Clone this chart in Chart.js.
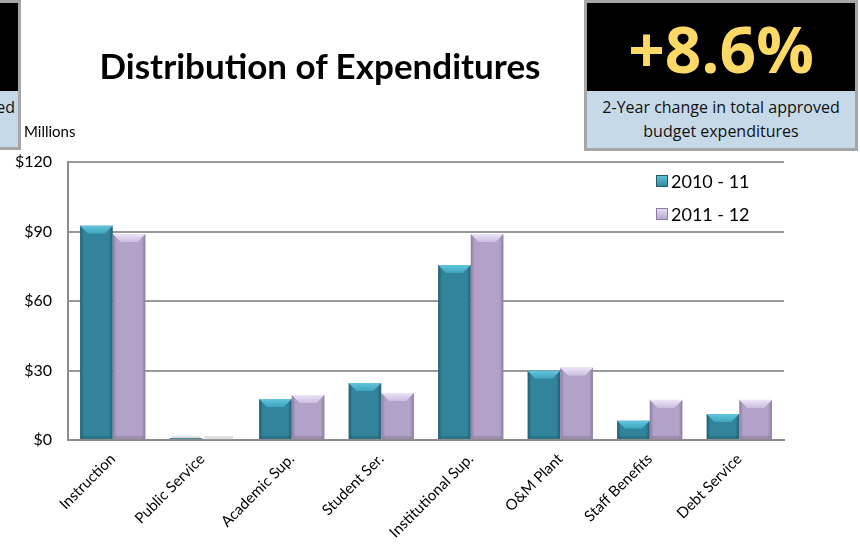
<!DOCTYPE html>
<html>
<head>
<meta charset="utf-8">
<script src="https://cdn.jsdelivr.net/npm/chart.js@4.4.0/dist/chart.umd.min.js"></script>
<style>
  body{margin:0;background:#fff;font-family:Lato,"Open Sans",sans-serif;}
  #wrap{position:relative;width:860px;height:555px;overflow:hidden;}
  #c{position:absolute;left:0;top:0;}
  .title{position:absolute;left:40px;width:560px;top:44px;text-align:center;font-weight:bold;font-size:35px;color:#000;}
  .box{position:absolute;border:3px solid #a6a6a6;background:#c5d9e8;box-sizing:border-box;overflow:hidden;}
  .box .top{background:#000;height:88px;color:#ffd966;font-weight:bold;text-align:center;font-family:"Open Sans",sans-serif;font-size:64px;line-height:92px;overflow:hidden;}
  .box .sub{text-align:center;font-family:"Open Sans",sans-serif;font-size:16px;line-height:24px;padding-top:4px;color:#111;white-space:nowrap;}
  .millions{position:absolute;left:24px;top:122px;font-size:15px;color:#000;}
</style>
</head>
<body>
<div id="wrap">
  <canvas id="c" width="860" height="555"></canvas>
  <div class="box" style="left:-252px;top:0;width:273px;height:150px">
    <div class="top">+5.2%</div>
    <div class="sub"><div style="text-align:right;padding-right:3px">1-Year change in total approved</div><div>budget expenditures</div></div>
  </div>
  <div class="title">Distribution of Expenditures</div>
  <div class="box" style="left:584px;top:0;width:274px;height:151px">
    <div class="top">+8.6%</div>
    <div class="sub">2-Year change in total approved<br>budget expenditures</div>
  </div>
  <div class="millions">Millions</div>
</div>
<script>
const categories = ['Instruction','Public Service','Academic Sup.','Student Ser.','Institutional Sup.','O&M Plant','Staff Benefits','Debt Service'];
const fy2010 = [92.5, 0.8, 17.7, 24.6, 75.5, 29.9, 8.3, 11.2];
const fy2011 = [88.9, 0.3, 19.4, 20.3, 88.9, 31.2, 17.3, 17.3];
const seriesNames = ['2010 - 11','2011 - 12'];
const yTicks = [0, 30, 60, 90, 120];

// colours per series: body, edge, light top
const pal = [
  {body:'#31849b', edge:'#1f5f70', top:'#62c6de', top2:'#3ea3bd'},
  {body:'#b3a2c7', edge:'#8c79a6', top:'#ece4f6', top2:'#cbbde0'}
];

function barGrad(ctx, x0, x1, p){
  const g = ctx.createLinearGradient(x0,0,x1,0);
  g.addColorStop(0, p.edge); g.addColorStop(0.12, p.body);
  g.addColorStop(0.88, p.body); g.addColorStop(1, p.edge);
  return g;
}

// draws the bevelled bars on top of chart.js' own bar elements
const bevel = {
  id:'bevel',
  afterDatasetsDraw(chart){
    const ctx = chart.ctx;
    chart.data.datasets.forEach((ds, i)=>{
      const p = pal[i];
      chart.getDatasetMeta(i).data.forEach(bar=>{
        const w = bar.width, x0 = bar.x - w/2, x1 = bar.x + w/2;
        const top = bar.y, base = bar.base, h = base - top;
        ctx.save();
        ctx.fillStyle = barGrad(ctx, x0, x1, p);
        ctx.fillRect(x0, top, w, h);
        const d = Math.min(8, h/2);
        const g = ctx.createLinearGradient(0, top, 0, top + d);
        g.addColorStop(0, p.top); g.addColorStop(1, p.top2);
        ctx.fillStyle = g;
        ctx.beginPath();
        ctx.moveTo(x0, top); ctx.lineTo(x1, top);
        ctx.lineTo(x1 - d, top + d); ctx.lineTo(x0 + d, top + d);
        ctx.closePath(); ctx.fill();
        ctx.fillStyle = 'rgba(0,0,0,0.12)';
        ctx.fillRect(x0 + 2, base - 3, w - 4, 3);
        ctx.restore();
      });
    });
  },
  afterDraw(chart){
    const ctx = chart.ctx;
    ctx.save();
    ctx.font = '18px Lato, sans-serif';
    ctx.textBaseline = 'middle';
    seriesNames.forEach((n, i)=>{
      const y = 181 + i*33, x = 656;
      const g = ctx.createLinearGradient(0, y-6, 0, y+6);
      g.addColorStop(0, pal[i].top); g.addColorStop(1, pal[i].body);
      ctx.fillStyle = g; ctx.fillRect(x, y-6, 12, 12);
      ctx.strokeStyle = pal[i].edge; ctx.lineWidth = 1; ctx.strokeRect(x+0.5, y-5.5, 11, 11);
      ctx.fillStyle = '#000';
      ctx.fillText(n, x + 15, y + 1);
    });
    ctx.restore();
  }
};

new Chart(document.getElementById('c').getContext('2d'), {
  type:'bar',
  data:{
    labels:categories,
    datasets:[
      {label:seriesNames[0], data:fy2010, backgroundColor:'rgba(0,0,0,0)', borderWidth:0},
      {label:seriesNames[1], data:fy2011, backgroundColor:'rgba(0,0,0,0)', borderWidth:0}
    ]
  },
  options:{
    responsive:false, animation:false,
    layout:{padding:{left:0, top:162, right:76, bottom:0}},
    datasets:{bar:{categoryPercentage:0.73, barPercentage:1}},
    plugins:{legend:{display:false}, tooltip:{enabled:false}},
    scales:{
      x:{
        grid:{display:false, drawTicks:false},
        border:{color:'#8c8c8c', width:2},
        ticks:{minRotation:45, maxRotation:45, padding:10, color:'#000', font:{family:'Lato', size:15}},
        afterFit(s){ s.height = 115; }
      },
      y:{
        min:0, max:120,
        afterBuildTicks(s){ s.ticks = yTicks.map(v=>({value:v})); },
        grid:{color:'#999', lineWidth:2, drawTicks:false},
        border:{color:'#8c8c8c', width:2},
        ticks:{padding:16, color:'#000', font:{family:'Lato', size:16}, callback:v=>'$'+v},
        afterFit(s){ s.width = 68; }
      }
    }
  },
  plugins:[bevel]
});
</script>
</body>
</html>
